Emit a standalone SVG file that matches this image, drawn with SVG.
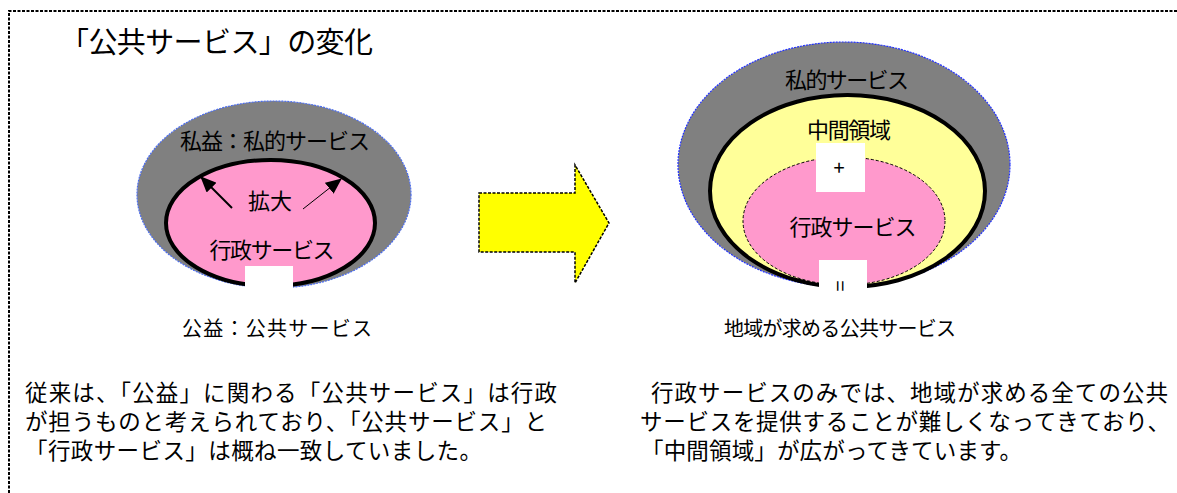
<svg xmlns="http://www.w3.org/2000/svg" width="1177" height="493" viewBox="0 0 1177 493">
<style>
text{font-family:"Noto Sans CJK JP","Noto Sans",sans-serif;fill:#000;}
.lbl{font-size:22px;text-anchor:middle;}
.cap{font-size:20px;text-anchor:middle;}
.body{font-size:22.5px;}
.grey{fill:#808080;}
.pink{fill:#ff99cc;}
.box{fill:#ffffff;stroke:none;}
</style>
<defs>
<marker id="ah" markerUnits="userSpaceOnUse" markerWidth="16" markerHeight="14" refX="15" refY="7" orient="auto">
<path d="M0,0 L16,7 L0,14 Z" fill="#000"/>
</marker>
</defs>
<rect width="1177" height="493" fill="#fff"/>
<path d="M9,493 V11 H1177" fill="none" stroke="#000" stroke-width="2" stroke-dasharray="3,1.5"/>
<text x="60" y="53" style="font-size:29px" textLength="313">「公共サービス」の変化</text>

<g id="before">
<ellipse cx="274" cy="194.5" rx="137" ry="93.5" class="grey" stroke="#4a6cf0" stroke-width="1.2" stroke-dasharray="2,1"/>
<ellipse cx="270.5" cy="223" rx="104.5" ry="63" class="pink" stroke="#000" stroke-width="4"/>
<rect x="245" y="266" width="48" height="27" class="box"/>
<text x="275" y="149" class="lbl" textLength="190">私益：私的サービス</text>
<text x="270" y="209" class="lbl">拡大</text>
<text x="272" y="258" class="lbl" textLength="125">行政サービス</text>
<text x="277" y="336" class="cap" textLength="190">公益：公共サービス</text>
</g>

<g id="change-arrow">
<polygon points="479,193 575,193 575,165 609,223 575,283 575,252 479,252" fill="#ffff00" stroke="#000" stroke-width="1.5" stroke-dasharray="3,1.5"/>
</g>

<g id="after">
<ellipse cx="844" cy="164.5" rx="166" ry="122.5" class="grey" stroke="#2030ff" stroke-width="1.2" stroke-dasharray="2,1"/>
<ellipse cx="847.5" cy="191" rx="137.5" ry="96" fill="#ffff99" stroke="#000" stroke-width="4"/>
<ellipse cx="844" cy="221" rx="101" ry="64" class="pink" stroke="#000" stroke-width="1" stroke-dasharray="3,2"/>
<rect x="816" y="143" width="49" height="49" class="box"/>
<rect x="819" y="260" width="48" height="36" class="box"/>
<text x="847" y="88" class="lbl" textLength="124">私的サービス</text>
<text x="849" y="138" class="lbl" textLength="84">中間領域</text>
<text x="839" y="175" style="font-size:20px;text-anchor:middle">+</text>
<text x="853" y="235" class="lbl" textLength="127">行政サービス</text>
<text x="0" y="0" transform="translate(841,286) rotate(90)" style="font-size:20px;text-anchor:middle;dominant-baseline:central">=</text>
<text x="840" y="336" class="cap" textLength="232">地域が求める公共サービス</text>
</g>

<g id="connectors">
<line x1="232" y1="208" x2="201" y2="177" stroke="#000" stroke-width="2" marker-end="url(#ah)"/>
<line x1="303" y1="209" x2="341" y2="179" stroke="#000" stroke-width="1" marker-end="url(#ah)"/>
</g>

<g id="text-before">
<text x="25" y="401" class="body" textLength="532">従来は、「公益」に関わる「公共サービス」は行政</text>
<text x="25" y="430" class="body" textLength="522">が担うものと考えられており、「公共サービス」と</text>
<text x="25" y="459" class="body" textLength="457">「行政サービス」は概ね一致していました。</text>
</g>

<g id="text-after">
<text x="651" y="401" class="body" textLength="517">行政サービスのみでは、地域が求める全ての公共</text>
<text x="640" y="430" class="body" textLength="530">サービスを提供することが難しくなってきており、</text>
<text x="641" y="459" class="body" textLength="381">「中間領域」が広がってきています。</text>
</g>
</svg>
